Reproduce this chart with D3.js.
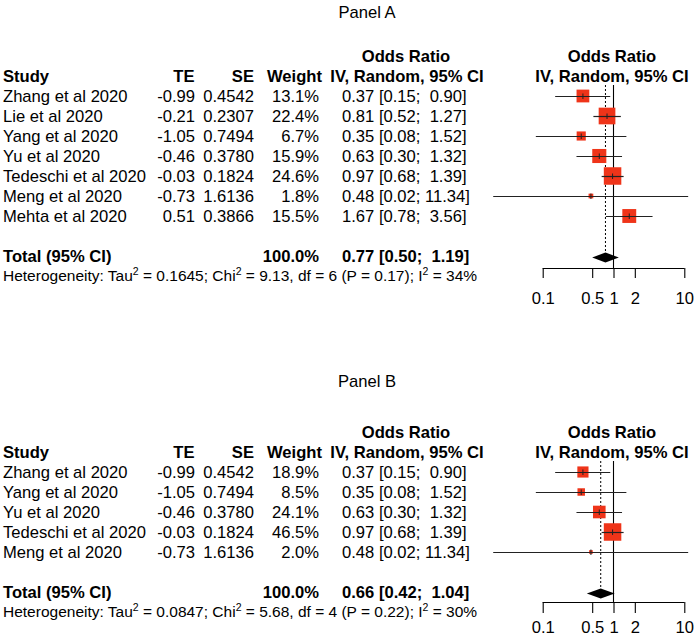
<!DOCTYPE html>
<html>
<head>
<meta charset="utf-8">
<script src="https://cdn.jsdelivr.net/npm/d3@7"></script>
<style>
  html, body { margin: 0; padding: 0; background: #fff; }
  svg { display: block; font-family: "Liberation Sans", Arial, Helvetica, sans-serif; }
  text { white-space: pre; fill: #000; }
</style>
</head>
<body>
<svg id="chart" width="694" height="644"></svg>
<script>
// ---------------- Data ----------------
const panelA_title = "Panel A";
const panelA_studies = ["Zhang et al 2020", "Lie et al 2020", "Yang et al 2020", "Yu et al 2020", "Tedeschi et al 2020", "Meng et al 2020", "Mehta et al 2020"];
const panelA_TE = [-0.99, -0.21, -1.05, -0.46, -0.03, -0.73, 0.51];
const panelA_SE = ["0.4542", "0.2307", "0.7494", "0.3780", "0.1824", "1.6136", "0.3866"];
const panelA_weight = [13.1, 22.4, 6.7, 15.9, 24.6, 1.8, 15.5];
const panelA_OR = [0.37, 0.81, 0.35, 0.63, 0.97, 0.48, 1.67];
const panelA_lower = [0.15, 0.52, 0.08, 0.30, 0.68, 0.02, 0.78];
const panelA_upper = [0.90, 1.27, 1.52, 1.32, 1.39, 11.34, 3.56];
const panelA_total = [0.77, 0.50, 1.19];
const panelA_het = ["0.1645", "9.13", "6", "0.17", "34%"];

const panelB_title = "Panel B";
const panelB_studies = ["Zhang et al 2020", "Yang et al 2020", "Yu et al 2020", "Tedeschi et al 2020", "Meng et al 2020"];
const panelB_TE = [-0.99, -1.05, -0.46, -0.03, -0.73];
const panelB_SE = ["0.4542", "0.7494", "0.3780", "0.1824", "1.6136"];
const panelB_weight = [18.9, 8.5, 24.1, 46.5, 2.0];
const panelB_OR = [0.37, 0.35, 0.63, 0.97, 0.48];
const panelB_lower = [0.15, 0.08, 0.30, 0.68, 0.02];
const panelB_upper = [0.90, 1.52, 1.32, 1.39, 11.34];
const panelB_total = [0.66, 0.42, 1.04];
const panelB_het = ["0.0847", "5.68", "4", "0.22", "30%"];

const tickValues = [0.1, 0.5, 1, 2, 10];
const tickLabels = ["0.1", "0.5", "1", "2", "10"];

// ---------------- Layout ----------------
const FS = 16.6;
const FS_HET = 15.5;
const SQUARE_COLOR = "#ef3419";
const svg = d3.select("#chart");
const x = d3.scaleLog().domain([0.1, 10]).range([542.7, 684.3]);

function fmt2(v) { return v.toFixed(2); }

function drawPanel(cfg) {
  const g = svg.append("g");
  const n = cfg.studies.length;
  const rowY = i => cfg.row0 + i * 20;
  const totalY = cfg.row0 + (n + 1) * 20;

  const txt = (xx, yy, s, anchor, bold, size) =>
    g.append("text").attr("x", xx).attr("y", yy).attr("dy", "0.355em")
      .attr("text-anchor", anchor || "start")
      .attr("font-weight", bold ? "bold" : "normal")
      .attr("font-size", size || FS).text(s);

  // Title
  txt(367, cfg.titleY, cfg.title, "middle", false);

  // Headers
  txt(406, cfg.head1, "Odds Ratio", "middle", true);
  txt(612, cfg.head1, "Odds Ratio", "middle", true);
  txt(3, cfg.head2, "Study", "start", true);
  txt(194.5, cfg.head2, "TE", "end", true);
  txt(254, cfg.head2, "SE", "end", true);
  txt(322, cfg.head2, "Weight", "end", true);
  txt(407, cfg.head2, "IV, Random, 95% CI", "middle", true);
  txt(612, cfg.head2, "IV, Random, 95% CI", "middle", true);

  const upW = Math.max(...cfg.upper.map(v => fmt2(v).length), fmt2(cfg.total[2]).length);
  const loW = Math.max(...cfg.lower.map(v => fmt2(v).length), fmt2(cfg.total[1]).length);
  const ciStr = (o, l, u) => fmt2(o) + " [" + fmt2(l).padStart(loW, " ") + "; " + fmt2(u).padStart(upW, " ") + "]";

  // Study rows
  cfg.studies.forEach((s, i) => {
    const y = rowY(i);
    txt(3, y, s, "start");
    txt(195, y, fmt2(cfg.TE[i]), "end");
    txt(254, y, cfg.SE[i], "end");
    txt(319, y, cfg.weight[i].toFixed(1) + "%", "end");
    txt(342, y, ciStr(cfg.OR[i], cfg.lower[i], cfg.upper[i]), "start");
  });

  // Total row
  txt(3, totalY, "Total (95% CI)", "start", true);
  txt(319, totalY, "100.0%", "end", true);
  txt(342, totalY, ciStr(cfg.total[0], cfg.total[1], cfg.total[2]), "start", true);

  // Heterogeneity
  const h = cfg.het;
  const het = g.append("text").attr("x", 3).attr("y", cfg.hetY).attr("dy", "0.355em")
    .attr("font-size", FS_HET);
  const parts = [
    ["Heterogeneity: Tau", 0], ["2", 1], [" = " + h[0] + "; Chi", 0], ["2", 1],
    [" = " + h[1] + ", df = " + h[2] + " (P = " + h[3] + "); I", 0], ["2", 1], [" = " + h[4], 0]
  ];
  let up = false;
  parts.forEach(([s, sup]) => {
    const t = het.append("tspan").text(s);
    if (sup) { t.attr("dy", -6).attr("font-size", 10.5); up = true; }
    else if (up) { t.attr("dy", 6); up = false; }
  });

  // Forest plot
  const wMax = d3.max(cfg.weight);
  const side = w => 17.5 * Math.sqrt(w / wMax);
  const topY = cfg.row0 - 11;

  // reference line at 1 (solid)
  g.append("line").attr("x1", x(1)).attr("x2", x(1)).attr("y1", topY).attr("y2", cfg.axisY)
    .attr("stroke", "#000").attr("stroke-width", 1.1);
  // random effects line (dotted)
  g.append("line").attr("x1", x(cfg.total[0])).attr("x2", x(cfg.total[0]))
    .attr("y1", topY).attr("y2", totalY - 5)
    .attr("stroke", "#000").attr("stroke-width", 1).attr("stroke-dasharray", "2,2");

  cfg.studies.forEach((s, i) => {
    const y = rowY(i);
    const sd = side(cfg.weight[i]);
    g.append("rect").attr("x", x(cfg.OR[i]) - sd / 2).attr("y", y - sd / 2)
      .attr("width", sd).attr("height", sd).attr("fill", SQUARE_COLOR);
    g.append("line").attr("x1", x(cfg.lower[i])).attr("x2", x(cfg.upper[i]))
      .attr("y1", y + 0.5).attr("y2", y + 0.5).attr("stroke", "#222").attr("stroke-width", 1.2);
    g.append("line").attr("x1", x(cfg.OR[i])).attr("x2", x(cfg.OR[i]))
      .attr("y1", y - 2.5).attr("y2", y + 3).attr("stroke", "#222").attr("stroke-width", 1);
  });

  // diamond
  const dy = totalY + 1.5;
  g.append("path")
    .attr("d", `M${x(cfg.total[1])},${dy} L${x(cfg.total[0])},${dy - 5} L${x(cfg.total[2])},${dy} L${x(cfg.total[0])},${dy + 5} Z`)
    .attr("fill", "#000");

  // axis
  const axis = d3.axisBottom(x).tickValues(tickValues)
    .tickFormat((d, i) => tickLabels[i]).tickSize(cfg.tickLen).tickPadding(cfg.tickPad);
  const ag = g.append("g").attr("transform", `translate(0,${cfg.axisY})`).call(axis);
  ag.select(".domain").attr("d", `M${x(0.1)},0.5H${x(10)}`).attr("stroke", "#000").attr("stroke-width", 1.1);
  ag.selectAll(".tick line").attr("stroke", "#000").attr("stroke-width", 1.1);
  ag.selectAll(".tick text").attr("font-size", FS)
    .attr("font-family", '"Liberation Sans", Arial, Helvetica, sans-serif').attr("fill", "#000");
}

drawPanel({
  title: panelA_title, studies: panelA_studies, TE: panelA_TE, SE: panelA_SE,
  weight: panelA_weight, OR: panelA_OR, lower: panelA_lower, upper: panelA_upper,
  total: panelA_total, het: panelA_het,
  titleY: 12, head1: 56, head2: 76, row0: 96, hetY: 275, axisY: 268, tickLen: 10, tickPad: 14
});

drawPanel({
  title: panelB_title, studies: panelB_studies, TE: panelB_TE, SE: panelB_SE,
  weight: panelB_weight, OR: panelB_OR, lower: panelB_lower, upper: panelB_upper,
  total: panelB_total, het: panelB_het,
  titleY: 381, head1: 432, head2: 452, row0: 472, hetY: 611, axisY: 602, tickLen: 11, tickPad: 8
});
</script>
</body>
</html>
